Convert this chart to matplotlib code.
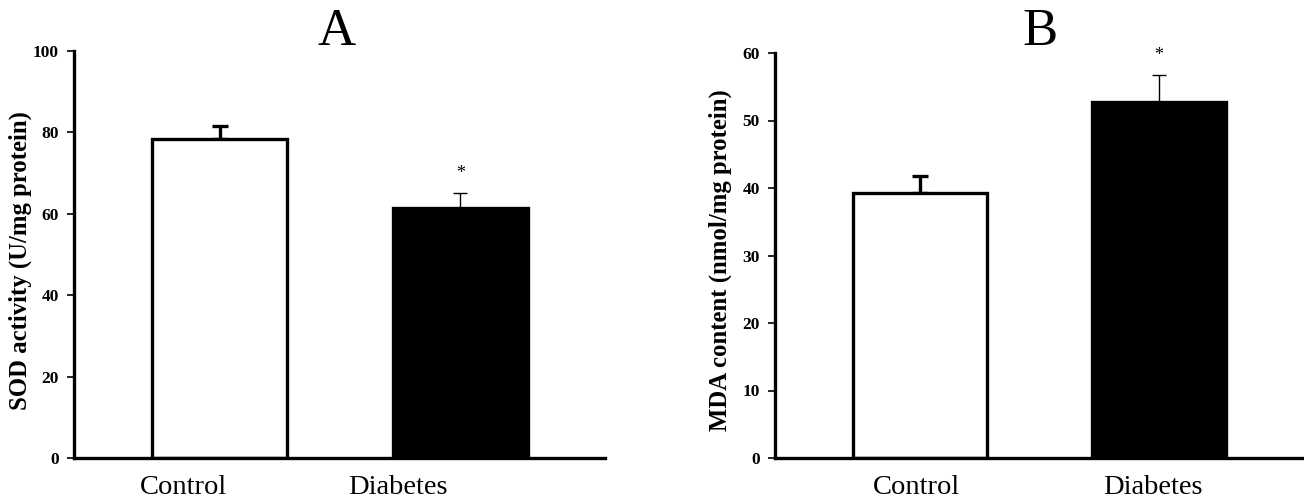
import matplotlib
matplotlib.use("Agg")
import matplotlib.pyplot as plt

# panel A - SOD
groups = ["Control", "Diabetes"]
sod_mean = [78.4, 61.4]
sod_err = [3.2, 3.7]
# panel B - MDA
mda_mean = [39.3, 52.7]
mda_err = [2.5, 4.0]
signif = [False, True]

plt.rcParams['font.family'] = ['Liberation Serif', 'DejaVu Serif']

fig = plt.figure(figsize=(13.04, 5.04), dpi=100)
W, H = 1304, 504


def panel(rect_px, means, errs, ymax, ystep, ylabel, ylab_pos, title, label_x, title_x):
    l, t, r, b = rect_px
    ax = fig.add_axes([l / W, 1 - b / H, (r - l) / W, (b - t) / H])
    pos = list(range(len(means)))
    colors = ["white", "black"]
    ax.bar(pos, means, width=0.56, color=colors, edgecolor="black", linewidth=2.4, zorder=2)
    for i, (m, e) in enumerate(zip(means, errs)):
        thick = colors[i] == "white"
        ax.errorbar(i, m, yerr=[[0], [e]], fmt="none", ecolor="black",
                    elinewidth=2.4 if thick else 1.0, capsize=6 if thick else 5,
                    capthick=2.4 if thick else 1.0, zorder=1)
        if signif[i]:
            ax.annotate("*", xy=(i, m + e), xytext=(0, 14), textcoords="offset points",
                        ha="center", va="center", fontsize=13)
    ax.set_xlim(-0.605, 1.602)
    ax.set_ylim(0, ymax)
    ax.set_yticks(range(0, ymax + 1, ystep))
    ax.set_xticks([])
    for s in ["top", "right"]:
        ax.spines[s].set_visible(False)
    for s in ["left", "bottom"]:
        ax.spines[s].set_linewidth(2.4)
    ax.tick_params(axis="y", direction="out", length=5, width=1.2, labelsize=12.5, pad=6)
    for lab in ax.get_yticklabels():
        lab.set_fontweight("bold")
    ax.set_ylabel(ylabel, fontsize=17.8, fontweight="bold", va="center")
    ax.yaxis.set_label_coords(*ylab_pos)
    for x, g in zip(label_x, groups):
        ax.annotate(g, xy=(x, 0), xycoords=("data", "axes fraction"), xytext=(0, -12),
                    textcoords="offset points", ha="center", va="top", fontsize=20.5)
    fig.text(title_x / W, 1 - 32 / H, title, ha="center", va="center", fontsize=38)
    return ax


panel((74, 51, 605, 458), sod_mean, sod_err, 100, 20,
      "SOD activity (U/mg protein)", (-0.102, 0.486), "A", [-0.15, 0.74], 337)
panel((775, 53, 1303, 458), mda_mean, mda_err, 60, 10,
      "MDA content (nmol/mg protein)", (-0.104, 0.489), "B", [-0.015, 0.975], 1040)

fig.savefig("out.png", dpi=100)
